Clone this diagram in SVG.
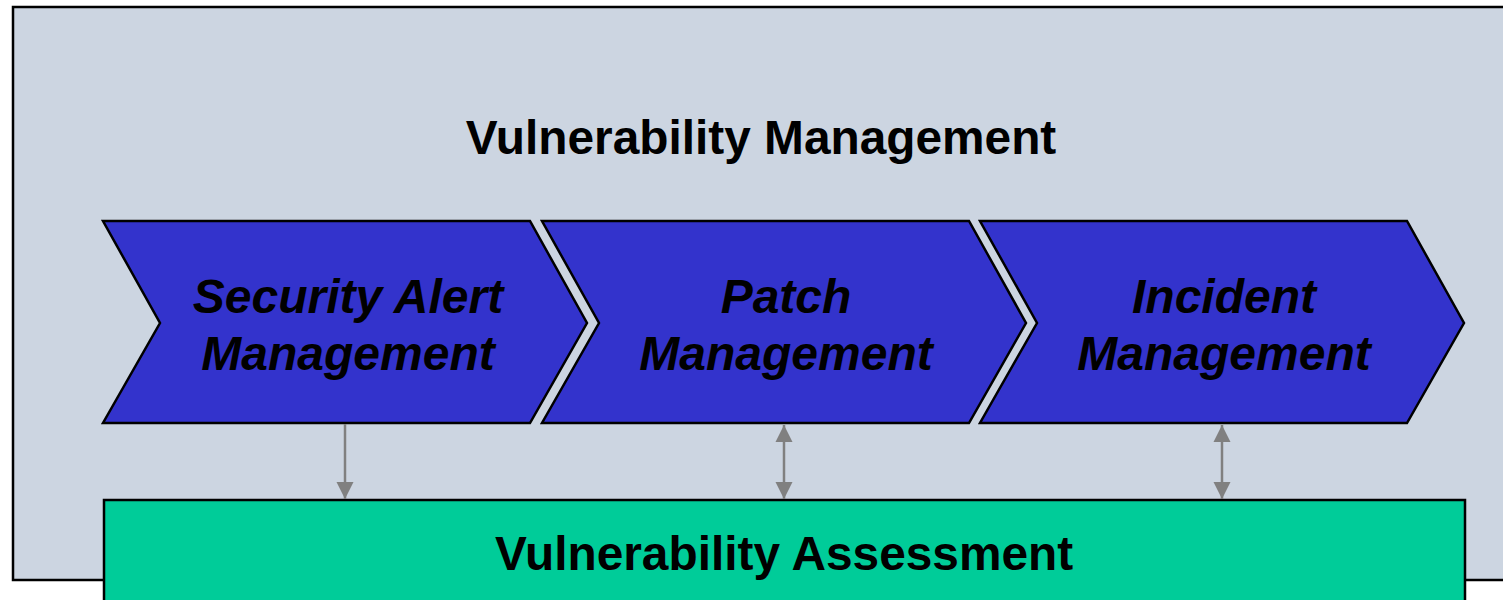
<svg xmlns="http://www.w3.org/2000/svg" width="1503" height="600" viewBox="0 0 1503 600">
  <style>
    .chev { fill: #3333CC; stroke: #000000; stroke-width: 2.5; stroke-linejoin: miter; }
    .title { font-family: "Liberation Sans", Arial, sans-serif; font-weight: bold; font-size: 47.8px; fill: #000000; text-anchor: middle; }
    .chevtext { font-family: "Liberation Sans", Arial, sans-serif; font-weight: bold; font-style: italic; font-size: 48px; fill: #000000; text-anchor: middle; }
    .conn { stroke: #808080; stroke-width: 2.5; fill: none; }
  </style>
  <defs>
    <marker id="ah" markerUnits="userSpaceOnUse" markerWidth="20" markerHeight="20" viewBox="0 0 20 20" refX="17" refY="10" orient="auto-start-reverse">
      <path d="M0,1.5 L17,10 L0,18.5 Z" fill="#808080"/>
    </marker>
  </defs>
  <rect width="1503" height="600" fill="#FFFFFF"/>
  <g id="vulnerability-management">
    <rect x="13" y="7" width="1500" height="573" fill="#CCD5E1" stroke="#000000" stroke-width="2.5"/>
    <text class="title" x="761" y="154">Vulnerability Management</text>
  </g>
  <g id="security-alert-management">
    <polygon class="chev" points="103,221 530,221 587,323 530,423 103,423 160,323"/>
    <text class="chevtext" x="348" y="313">Security Alert</text>
    <text class="chevtext" x="348" y="370">Management</text>
  </g>
  <g id="patch-management">
    <polygon class="chev" points="542,221 969,221 1026,323 969,423 542,423 599,323"/>
    <text class="chevtext" x="786" y="313">Patch</text>
    <text class="chevtext" x="786" y="370">Management</text>
  </g>
  <g id="incident-management">
    <polygon class="chev" points="980,221 1407,221 1464,323 1407,423 980,423 1037,323"/>
    <text class="chevtext" x="1224" y="313">Incident</text>
    <text class="chevtext" x="1224" y="370">Management</text>
  </g>
  <g id="vulnerability-assessment">
    <rect x="104" y="500" width="1361" height="110" fill="#00CC99" stroke="#000000" stroke-width="2.5"/>
    <text class="title" x="784" y="570">Vulnerability Assessment</text>
  </g>
  <g id="connectors">
    <line class="conn" x1="345" y1="424" x2="345" y2="499" marker-end="url(#ah)"/>
    <line class="conn" x1="784" y1="425" x2="784" y2="499" marker-start="url(#ah)" marker-end="url(#ah)"/>
    <line class="conn" x1="1222" y1="425" x2="1222" y2="499" marker-start="url(#ah)" marker-end="url(#ah)"/>
  </g>
</svg>
